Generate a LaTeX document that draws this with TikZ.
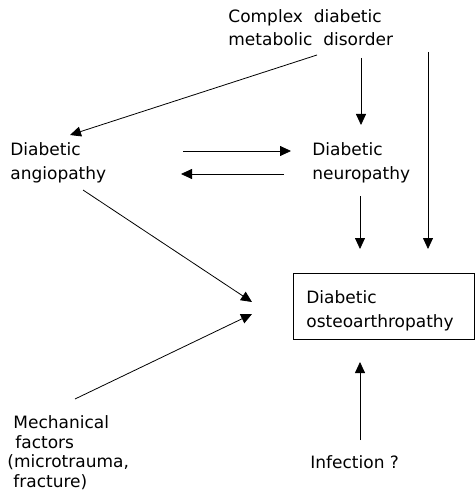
\documentclass[tikz,border=0pt]{standalone}
\usepackage{fontspec}
\setmainfont{DejaVu Sans}
\usetikzlibrary{arrows.meta}
\begin{document}
\begin{tikzpicture}[x=1pt,y=-1pt,line width=0.8pt,
  >={Triangle[length=11pt,width=10pt]},
  lbl/.style={anchor=base west,inner sep=0pt,align=left,font=\fontsize{17}{23.5}\selectfont},
  mech/.style={anchor=base west,inner sep=0pt,align=left,font=\fontsize{17}{19.5}\selectfont},
  boxnode/.style={draw,line width=1.3pt,minimum width=181pt,minimum height=66pt,anchor=north west,inner sep=0pt}]
\useasboundingbox (0,0) rectangle (475,492);
% texts (base anchor = baseline of the last line)
\node[lbl] (cdm) at (228,46) {Complex\ \ diabetic\\metabolic\ \ disorder};
\node[lbl] (ang) at (10,179) {Diabetic\\angiopathy};
\node[lbl] (neu) at (312,179) {Diabetic\\neuropathy};
\node[boxnode] (box) at (293,273) {};
\node[lbl] (dop) at (306,327) {Diabetic\\osteoarthropathy};
\node[mech] (mec) at (7,487) {\hspace{6pt}Mechanical\\\hspace{8pt}factors\\(microtrauma,\\\hspace{6pt}fracture)};
\node[lbl] (inf) at (310,468) {Infection ?};
% connector end points
\coordinate (c1) at (317,55);  \coordinate (a1) at (70,135);
\coordinate (c2) at (361,58);  \coordinate (n2) at (361,125);
\coordinate (c3) at (428,52);  \coordinate (b3) at (428,249);
\coordinate (a4) at (183,151); \coordinate (n4) at (291,151);
\coordinate (n5) at (284,174); \coordinate (a5) at (181,174);
\coordinate (n6) at (360,196); \coordinate (b6) at (360,249);
\coordinate (a7) at (83,190);  \coordinate (p7) at (252,302);
\coordinate (m8) at (75,399);  \coordinate (p8) at (252,314);
\coordinate (i9) at (360,440); \coordinate (b9) at (360,362);
% connectors
\draw[->] (c1) -- (a1);
\draw[->] (c2) -- (n2);
\draw[->] (c3) -- (b3);
\draw[->] (a4) -- (n4);
\draw[->] (n5) -- (a5);
\draw[->] (n6) -- (b6);
\draw[->] (a7) -- (p7);
\draw[->] (m8) -- (p8);
\draw[->] (i9) -- (b9);
\end{tikzpicture}
\end{document}
